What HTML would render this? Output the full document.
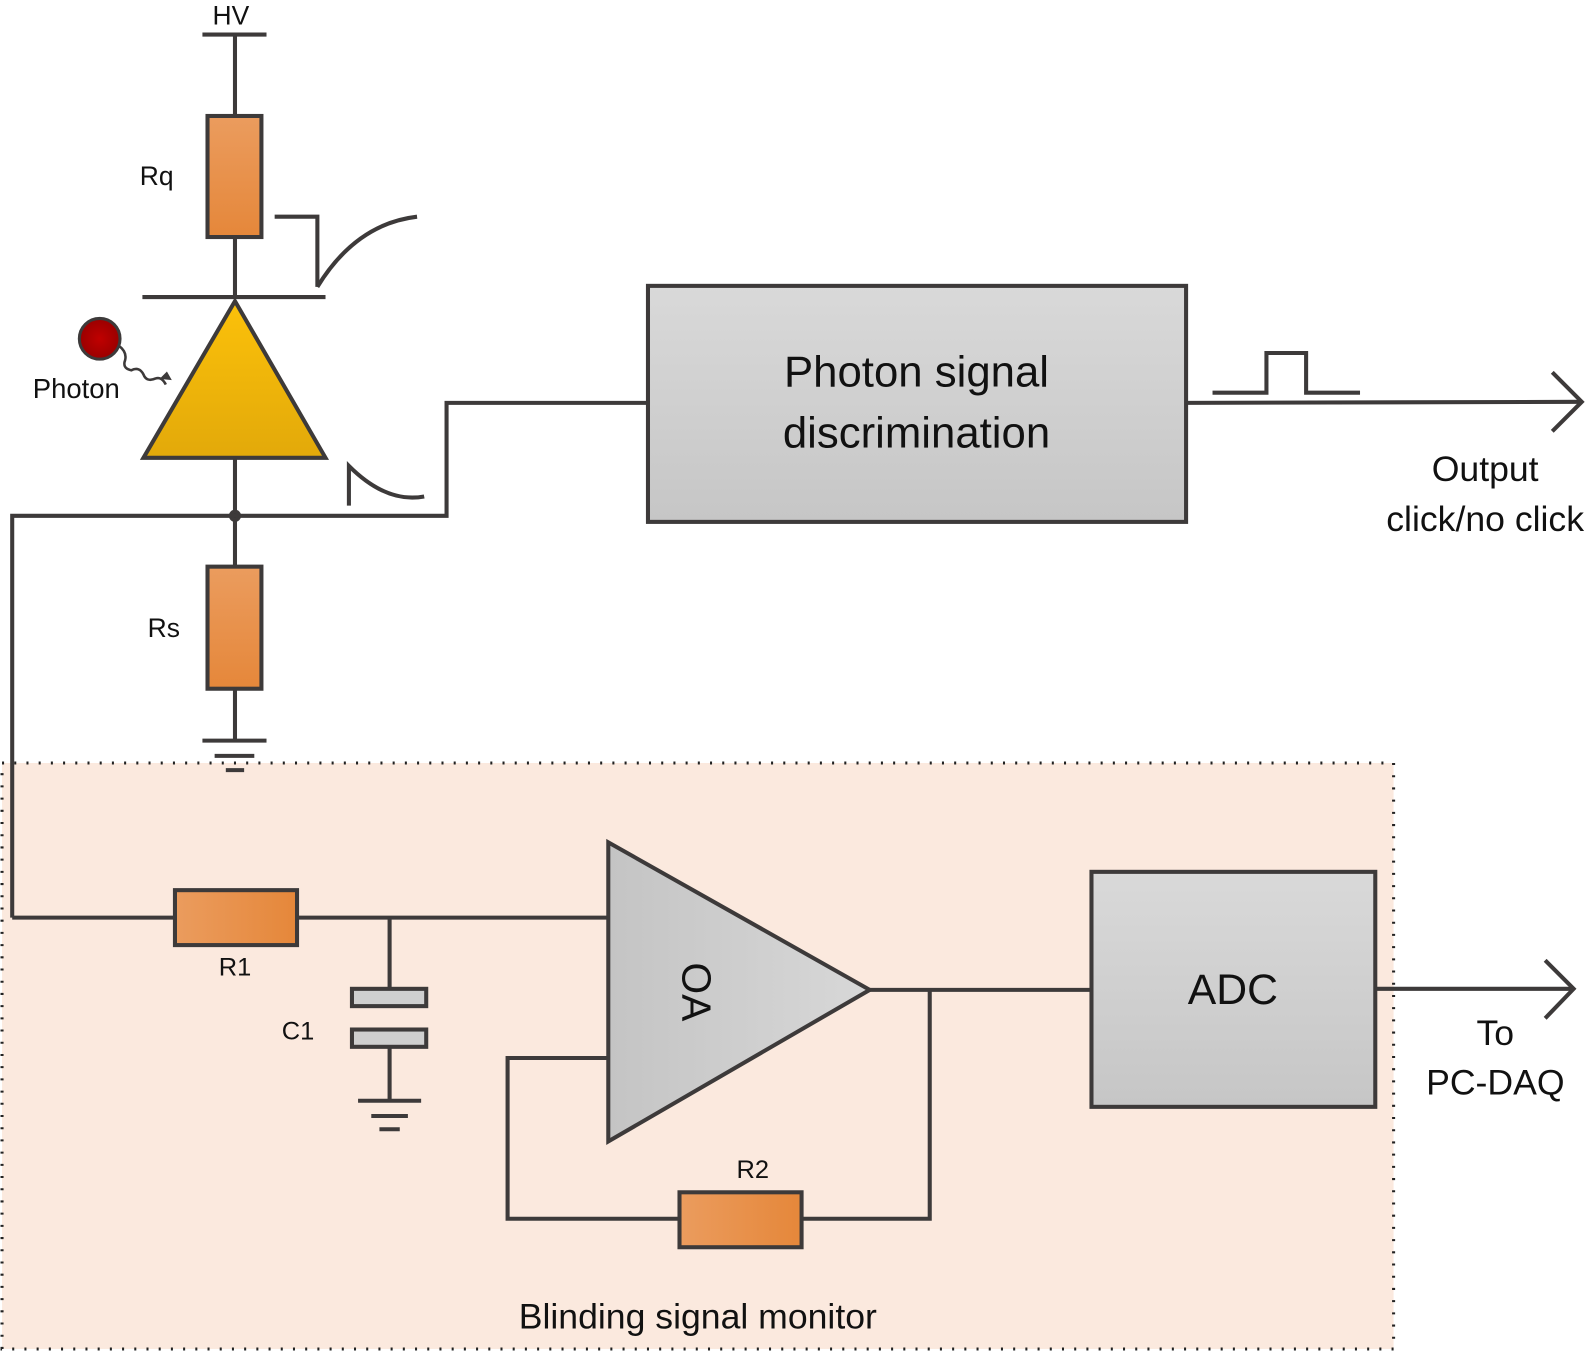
<!DOCTYPE html>
<html><head><meta charset="utf-8"><style>
html,body{margin:0;padding:0;background:#fff}
svg{display:block}
text{font-family:"Liberation Sans",sans-serif;fill:#111}
</style></head><body>
<svg width="1595" height="1351" viewBox="0 0 1568 1328" preserveAspectRatio="none" xmlns="http://www.w3.org/2000/svg">
<defs>
<linearGradient id="org" x1="0" y1="0" x2="1" y2="0"><stop offset="0" stop-color="#eb9c5e"/><stop offset="1" stop-color="#e5873a"/></linearGradient>
<linearGradient id="orgv" x1="0" y1="0" x2="0" y2="1"><stop offset="0" stop-color="#eb9c5e"/><stop offset="1" stop-color="#e5873a"/></linearGradient>
<linearGradient id="gry" x1="0" y1="0" x2="0" y2="1"><stop offset="0" stop-color="#d9d9d9"/><stop offset="1" stop-color="#c6c6c6"/></linearGradient>
<linearGradient id="gryh" x1="0" y1="0" x2="1" y2="0"><stop offset="0" stop-color="#c4c4c4"/><stop offset="1" stop-color="#d8d8d8"/></linearGradient>
<linearGradient id="yel" x1="0" y1="0" x2="0" y2="1"><stop offset="0" stop-color="#fcc10a"/><stop offset="1" stop-color="#e2a90a"/></linearGradient>
<radialGradient id="red"><stop offset="0" stop-color="#c00000"/><stop offset="1" stop-color="#9a0000"/></radialGradient>
</defs>
<g stroke="#3d3a3a" stroke-width="4" fill="none">
<!-- monitor region -->
<rect x="2" y="750" width="1368" height="576" fill="#fbe9de" stroke="#222" stroke-width="3" stroke-dasharray="2 10"/>
<!-- HV -->
<line x1="199" y1="34" x2="262" y2="34"/>
<line x1="231" y1="34" x2="231" y2="114"/>
<rect x="204" y="114" width="53" height="119" fill="url(#orgv)"/>
<line x1="231" y1="233" x2="231" y2="293"/>
<line x1="140" y1="292" x2="320" y2="292"/>
<polyline points="270,213 312,213 312,282"/>
<path d="M312,282 Q350,220 410,213"/>
<polygon points="231,296 141,450 320,450" fill="url(#yel)"/>
<line x1="231" y1="450" x2="231" y2="557"/>
<circle cx="98" cy="333" r="20" fill="url(#red)" stroke-width="3"/>
<path d="M117,340 q8,6 6,14 q-3,8 6,10 q8,-4 12,4 q3,8 12,4 q6,-2 10,6" stroke-width="2.5"/>
<polygon points="168,373 158,372 164,366" fill="#3d3a3a" stroke-width="1"/>
<circle cx="231" cy="507" r="4" fill="#222"/>
<rect x="204" y="557" width="53" height="120" fill="url(#orgv)"/>
<line x1="231" y1="677" x2="231" y2="728"/>
<line x1="199" y1="728" x2="262" y2="728"/>
<line x1="211" y1="743" x2="250" y2="743"/>
<line x1="222" y1="757" x2="240" y2="757"/>
<!-- main wire -->
<polyline points="12,902 12,507 439,507 439,396 637,396"/>
<path d="M343,497 L343,458 Q380,495 417,488"/>
<rect x="637" y="281" width="529" height="232" fill="url(#gry)"/>
<line x1="1166" y1="396" x2="1555" y2="395"/>
<polyline points="1526,366 1555,395 1526,424"/>
<polyline points="1192,386 1245,386 1245,347 1284,347 1284,386 1337,386"/>
<!-- bottom circuit -->
<line x1="12" y1="902" x2="172" y2="902"/>
<rect x="172" y="875" width="120" height="54" fill="url(#org)"/>
<line x1="292" y1="902" x2="598" y2="902"/>
<line x1="383" y1="902" x2="383" y2="972"/>
<rect x="346" y="972" width="73" height="17" fill="#cfcfcf"/>
<rect x="346" y="1012" width="73" height="17" fill="#cfcfcf"/>
<line x1="383" y1="1029" x2="383" y2="1082"/>
<line x1="352" y1="1082" x2="414" y2="1082"/>
<line x1="365" y1="1097" x2="401" y2="1097"/>
<line x1="373" y1="1110" x2="393" y2="1110"/>
<polygon points="598,828 598,1122 855,973" fill="url(#gryh)"/>
<line x1="855" y1="973" x2="1073" y2="973"/>
<polyline points="914,973 914,1198 788,1198"/>
<rect x="668" y="1172" width="120" height="54" fill="url(#org)"/>
<polyline points="668,1198 499,1198 499,1040 598,1040"/>
<rect x="1073" y="857" width="279" height="231" fill="url(#gry)"/>
<line x1="1352" y1="972" x2="1547" y2="972"/>
<polyline points="1519,944 1547,972 1519,1001"/>
</g>
<g>
<text x="227" y="24" font-size="26" text-anchor="middle">HV</text>
<text x="154" y="182" font-size="26" text-anchor="middle">Rq</text>
<text x="75" y="391" font-size="27" text-anchor="middle">Photon</text>
<text x="161" y="626" font-size="26" text-anchor="middle">Rs</text>
<text x="901" y="380" font-size="43" text-anchor="middle">Photon signal</text>
<text x="901" y="440" font-size="43" text-anchor="middle">discrimination</text>
<text x="1460" y="473" font-size="35" text-anchor="middle">Output</text>
<text x="1460" y="522" font-size="35" text-anchor="middle">click/no click</text>
<text x="231" y="959" font-size="25" text-anchor="middle">R1</text>
<text x="293" y="1022" font-size="25" text-anchor="middle">C1</text>
<text x="740" y="1158" font-size="25" text-anchor="middle">R2</text>
<text x="0" y="0" font-size="40" text-anchor="middle" transform="translate(671,975) rotate(90)">OA</text>
<text x="1212" y="987" font-size="42" text-anchor="middle">ADC</text>
<text x="1470" y="1027" font-size="35" text-anchor="middle">To</text>
<text x="1470" y="1076" font-size="35" text-anchor="middle">PC-DAQ</text>
<text x="686" y="1306" font-size="35" text-anchor="middle">Blinding signal monitor</text>
</g>
</svg>
</body></html>
